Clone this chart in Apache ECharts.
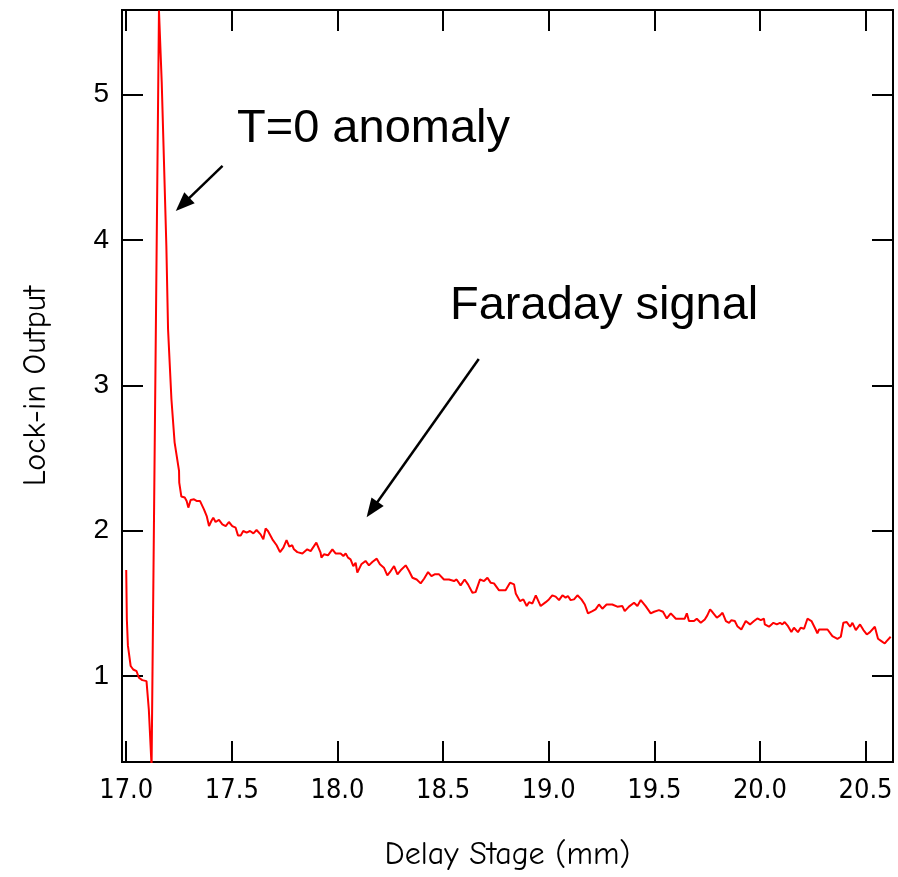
<!DOCTYPE html>
<html>
<head>
<meta charset="utf-8">
<script src="https://cdn.jsdelivr.net/npm/echarts@6/dist/echarts.min.js"></script>
<style>
  html, body { margin: 0; padding: 0; background: #fff; }
  #chart { width: 898px; height: 877px; }
</style>
</head>
<body>
<div id="chart"></div>
<script>
// delay stage position (mm)
const stage = [
  17.000, 17.003, 17.008, 17.021, 17.033, 17.049, 17.060, 17.076, 17.096, 17.107, 17.120,
  17.155, 17.168, 17.190, 17.198, 17.214, 17.229, 17.250, 17.251, 17.261,
  17.277, 17.286, 17.294, 17.305, 17.321, 17.333, 17.349, 17.368, 17.381, 17.392,
  17.403, 17.412, 17.423, 17.439, 17.455, 17.471, 17.486, 17.502, 17.518, 17.529,
  17.542, 17.554, 17.570, 17.586, 17.602, 17.617, 17.636, 17.649, 17.660, 17.671,
  17.692, 17.712, 17.728, 17.744, 17.759, 17.772, 17.786,
  17.794, 17.810, 17.834, 17.857, 17.873, 17.900, 17.920, 17.924, 17.936, 17.955,
  17.976, 17.991, 18.015, 18.028, 18.039, 18.050, 18.062, 18.075, 18.086, 18.094,
  18.113, 18.133, 18.149, 18.165, 18.186, 18.201, 18.220, 18.236, 18.252, 18.268,
  18.284, 18.303, 18.323, 18.339, 18.355, 18.375, 18.394, 18.410, 18.429, 18.445,
  18.460, 18.481, 18.504, 18.528, 18.552, 18.564, 18.583,
  18.602, 18.618, 18.639, 18.654, 18.675, 18.694, 18.710, 18.725, 18.741, 18.765,
  18.796, 18.817, 18.836, 18.844, 18.864, 18.880, 18.896, 18.907, 18.923, 18.939,
  18.962, 18.986, 19.001, 19.017, 19.033, 19.049, 19.065, 19.080, 19.091, 19.104,
  19.120, 19.136, 19.155, 19.171, 19.186, 19.207, 19.222, 19.238, 19.254, 19.274,
  19.301, 19.325, 19.349, 19.360, 19.380,
  19.404, 19.420, 19.436, 19.459, 19.483, 19.499, 19.522, 19.541, 19.559, 19.578,
  19.602, 19.625, 19.644, 19.654, 19.664, 19.688, 19.701, 19.720, 19.739, 19.751,
  19.764, 19.775, 19.796, 19.811, 19.823, 19.839, 19.854, 19.865, 19.881, 19.893,
  19.912, 19.933, 19.953, 19.972, 19.988,
  20.004, 20.019, 20.023, 20.043, 20.064, 20.080, 20.095, 20.106, 20.117, 20.133,
  20.149, 20.161, 20.180, 20.193, 20.209, 20.225, 20.244, 20.264, 20.272, 20.280,
  20.320, 20.343, 20.367, 20.383, 20.395, 20.411, 20.427, 20.438, 20.454, 20.474,
  20.490, 20.506, 20.521, 20.544, 20.553, 20.559, 20.575, 20.591, 20.600, 20.619
];

// lock-in amplifier output
const output = [
  1.73, 1.39, 1.21, 1.07, 1.046, 1.034, 0.989, 0.973, 0.966, 0.771, 0.38,
  5.577, 5.086, 3.957, 3.386, 2.904, 2.608, 2.411, 2.331, 2.235,
  2.228, 2.205, 2.159, 2.211, 2.216, 2.205, 2.205, 2.147, 2.101, 2.032,
  2.067, 2.090, 2.060, 2.074, 2.044, 2.032, 2.060, 2.032, 2.021, 1.968,
  1.968, 1.998, 1.987, 1.998, 1.982, 2.005, 1.975, 1.941, 2.015, 1.998,
  1.941, 1.900, 1.853, 1.884, 1.936, 1.891, 1.900,
  1.872, 1.853, 1.844, 1.872, 1.860, 1.918, 1.849, 1.815, 1.838, 1.831,
  1.872, 1.844, 1.844, 1.826, 1.844, 1.815, 1.803, 1.757, 1.780, 1.712,
  1.769, 1.792, 1.762, 1.785, 1.808, 1.769, 1.746, 1.693, 1.723, 1.757,
  1.700, 1.734, 1.762, 1.723, 1.677, 1.665, 1.638, 1.670, 1.716, 1.688,
  1.700, 1.700, 1.665, 1.665, 1.654, 1.665, 1.624,
  1.665, 1.631, 1.574, 1.578, 1.665, 1.654, 1.677, 1.643, 1.638, 1.590,
  1.590, 1.643, 1.631, 1.569, 1.516, 1.528, 1.482, 1.509, 1.500, 1.556,
  1.482, 1.509, 1.528, 1.556, 1.547, 1.523, 1.556, 1.540, 1.551, 1.523,
  1.528, 1.556, 1.528, 1.493, 1.432, 1.447, 1.459, 1.493, 1.464, 1.493,
  1.493, 1.478, 1.482, 1.447, 1.478,
  1.505, 1.482, 1.523, 1.482, 1.432, 1.443, 1.454, 1.443, 1.397, 1.432,
  1.395, 1.395, 1.395, 1.432, 1.379, 1.379, 1.395, 1.367, 1.390, 1.418,
  1.459, 1.441, 1.402, 1.418, 1.436, 1.379, 1.367, 1.385, 1.379, 1.344,
  1.321, 1.379, 1.356, 1.379, 1.397,
  1.385, 1.395, 1.356, 1.340, 1.367, 1.356, 1.367, 1.356, 1.372, 1.344,
  1.303, 1.333, 1.303, 1.333, 1.326, 1.395, 1.379, 1.321, 1.294, 1.321,
  1.321, 1.275, 1.257, 1.271, 1.367, 1.372, 1.340, 1.367, 1.317, 1.356,
  1.317, 1.287, 1.303, 1.340, 1.340, 1.257, 1.241, 1.225, 1.241, 1.271
];

const xTicks = [17.0, 17.5, 18.0, 18.5, 19.0, 19.5, 20.0, 20.5];
const yTicks = [1, 2, 3, 4, 5];

// annotation arrows: [fromX, fromY, toX, toY] in data units
const arrows = [
  [17.456, 4.508, 17.267, 4.244],
  [18.669, 3.180, 18.164, 2.146]
];

const chart = echarts.init(document.getElementById('chart'));

const data = stage.map((x, i) => [x, output[i]]);

const handFont = "'Comic Sans MS', 'Comic Neue', 'DejaVu Sans', sans-serif";

const tickStyle = { show: true, inside: true, length: 21, lineStyle: { color: '#000', width: 2 } };

chart.setOption({
  animation: false,
  backgroundColor: '#fff',
  grid: {
    left: 122, right: 5, top: 10, bottom: 115,
    show: true, borderColor: '#000', borderWidth: 2
  },
  xAxis: [{
    type: 'value', min: 16.98, max: 20.63,
    name: 'Delay Stage (mm)', nameLocation: 'middle', nameGap: 77,
    nameTextStyle: { fontFamily: handFont, fontSize: 32, color: '#000' },
    axisLine: { show: true, lineStyle: { color: '#000', width: 2 } },
    axisTick: Object.assign({ customValues: xTicks }, tickStyle),
    axisLabel: {
      customValues: xTicks, margin: 15,
      formatter: v => v.toFixed(1),
      fontFamily: "'Liberation Sans Narrow', 'Arial Narrow', 'DejaVu Sans Condensed', sans-serif",
      fontSize: 27, color: '#000'
    },
    splitLine: { show: false }
  }, {
    type: 'value', min: 16.98, max: 20.63, position: 'top',
    axisLine: { show: true, lineStyle: { color: '#000', width: 2 } },
    axisTick: Object.assign({ customValues: xTicks }, tickStyle),
    axisLabel: { show: false },
    splitLine: { show: false }
  }],
  yAxis: [{
    type: 'value', min: 0.41, max: 5.58,
    name: 'Lock-in Output', nameLocation: 'middle', nameGap: 70,
    nameTextStyle: { fontFamily: handFont, fontSize: 32, color: '#000' },
    axisLine: { show: true, lineStyle: { color: '#000', width: 2 } },
    axisTick: Object.assign({ customValues: yTicks }, tickStyle),
    axisLabel: {
      customValues: yTicks, margin: 13,
      formatter: v => String(v),
      fontFamily: "'Liberation Sans', Arial, sans-serif",
      fontSize: 28, color: '#000'
    },
    splitLine: { show: false }
  }, {
    type: 'value', min: 0.41, max: 5.58, position: 'right',
    axisLine: { show: true, lineStyle: { color: '#000', width: 2 } },
    axisTick: Object.assign({ customValues: yTicks }, tickStyle),
    axisLabel: { show: false },
    splitLine: { show: false }
  }],
  series: [{
    type: 'line',
    data: data,
    showSymbol: false,
    lineStyle: { color: '#ff0000', width: 2 },
    markLine: {
      silent: true,
      symbol: ['none', 'triangle'],
      symbolSize: [15, 19],
      label: { show: false },
      lineStyle: { color: '#000', width: 2.5, type: 'solid' },
      data: arrows.map(a => [{ coord: [a[0], a[1]] }, { coord: [a[2], a[3]] }])
    }
  }],
  graphic: [{
    type: 'text', left: 237, top: 106,
    style: { text: 'T=0 anomaly', font: "47px 'Liberation Sans', Arial, sans-serif", fill: '#000' }
  }, {
    type: 'text', left: 450, top: 283,
    style: { text: 'Faraday signal', font: "47px 'Liberation Sans', Arial, sans-serif", fill: '#000' }
  }]
});
</script>
</body>
</html>
